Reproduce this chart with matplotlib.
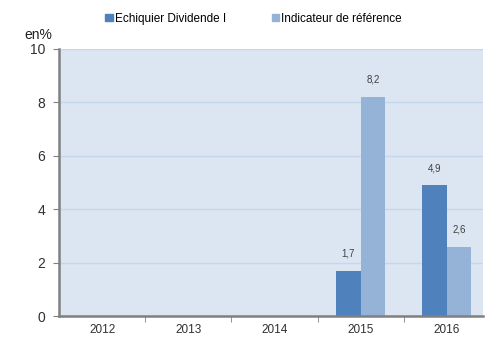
import matplotlib
matplotlib.use('Agg')
import matplotlib.pyplot as plt
import numpy as np

plt.rcParams['font.family'] = ['Liberation Sans', 'DejaVu Sans']

# Data
# ----------------------------------------------------------------------------

years = ['2012', '2013', '2014', '2015', '2016']
fund = [None, None, None, 1.7, 4.9]
bench = [None, None, None, 8.2, 2.6]
fund_name = 'Echiquier Dividende I'
bench_name = 'Indicateur de référence'

# Plot
# ----------------------------------------------------------------------------

c_fund = '#4f81bd'
c_bench = '#95b3d7'
w = 0.285

fig = plt.figure(figsize=(4.88, 3.37), dpi=100)
ax = fig.add_axes([0.121, 0.062, 0.869, 0.793])
ax.set_facecolor('#dce6f2')

x = np.arange(len(years))
for i in range(len(years)):
    if fund[i] is not None:
        ax.bar(x[i] - w / 2, fund[i], w, color=c_fund, zorder=3)
        ax.text(x[i] - w / 2, fund[i] + 0.45, f'{fund[i]:.1f}'.replace('.', ','),
                ha='center', va='bottom', fontsize=7, color='#404040')
    if bench[i] is not None:
        ax.bar(x[i] + w / 2, bench[i], w, color=c_bench, zorder=3)
        ax.text(x[i] + w / 2, bench[i] + 0.45, f'{bench[i]:.1f}'.replace('.', ','),
                ha='center', va='bottom', fontsize=7, color='#404040')

ax.set_yticks([0, 2, 4, 6, 8, 10])
ax.tick_params(axis='y', labelsize=10, length=4, color='#808080', pad=6,
               labelcolor='#303030')
ax.set_xticks(x)
ax.set_xticklabels(years)
ax.tick_params(axis='x', which='major', labelsize=8.5, length=0, pad=6,
               labelcolor='#303030')
# tick marks between categories
ax.set_xticks(np.arange(len(years) - 1) + 0.5, minor=True)
ax.tick_params(axis='x', which='minor', length=4, color='#808080')
ax.set_ylim(0, 10)
ax.set_xlim(-0.5, 4.42)
ax.grid(axis='y', color='#c6d6ec', linewidth=1, zorder=0)
ax.set_axisbelow(True)

for side in ('top', 'right'):
    ax.spines[side].set_visible(False)
for side in ('left', 'bottom'):
    ax.spines[side].set_color('#808080')
    ax.spines[side].set_linewidth(1.8)
ax.spines['bottom'].set_zorder(4)

fig.text(0.049, 0.885, 'en%', fontsize=10, color='#202020')

handles = [plt.Rectangle((0, 0), 1, 1, color=c_fund),
           plt.Rectangle((0, 0), 1, 1, color=c_bench)]
fig.legend(handles, [fund_name, bench_name], loc='center', ncol=2,
           bbox_to_anchor=(0.52, 0.944), frameon=False, fontsize=8.5,
           handlelength=0.6, handleheight=0.6, handletextpad=0.2,
           columnspacing=3.9)

fig.savefig('out.png', dpi=100)
